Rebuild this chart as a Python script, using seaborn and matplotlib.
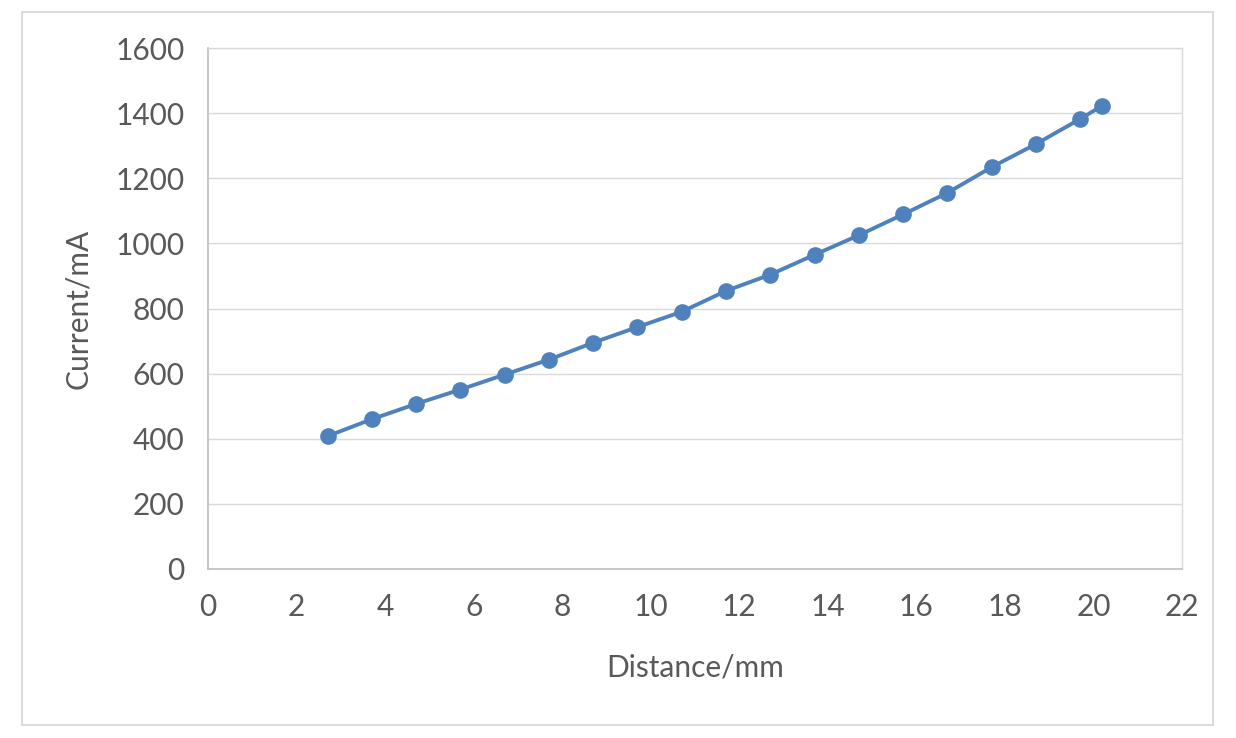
import matplotlib
matplotlib.use("Agg")
import matplotlib.pyplot as plt
import matplotlib.patches as mpatches
import seaborn as sns
import pandas as pd

# Data
distance_mm = [2.7, 3.7, 4.7, 5.7, 6.7, 7.7, 8.7, 9.7, 10.7, 11.7,
               12.7, 13.7, 14.7, 15.7, 16.7, 17.7, 18.7, 19.7, 20.2]
current_ma = [408, 460, 507, 551, 597, 643, 695, 743, 790, 854,
              904, 965, 1025, 1089, 1155, 1234, 1305, 1382, 1423]
x_ticks = [0, 2, 4, 6, 8, 10, 12, 14, 16, 18, 20, 22]
y_ticks = [0, 200, 400, 600, 800, 1000, 1200, 1400, 1600]
x_label = "Distance/mm"
y_label = "Current/mA"

sns.set_style("white")
plt.rcParams["font.family"] = ["Lato", "DejaVu Sans"]

W, H = 1236, 738
fig = plt.figure(figsize=(W / 100, H / 100), dpi=100)
L, R, T, B = 208, 1182, 48, 569
ax = fig.add_axes([L / W, 1 - B / H, (R - L) / W, (B - T) / H])

df = pd.DataFrame({"x": distance_mm, "y": current_ma})
sns.lineplot(data=df, x="x", y="y", ax=ax, color="#4f81bd", linewidth=2.8,
             marker="o", markersize=12, markeredgewidth=0, sort=False)

ax.set_xlim(0, 22)
ax.set_ylim(0, 1600)
ax.set_xticks(x_ticks)
ax.set_yticks(y_ticks)
ax.set_xticklabels([str(t) for t in x_ticks])
ax.set_yticklabels([str(t) for t in y_ticks])

text_color = "#595959"
ax.tick_params(axis="both", length=0, labelsize=21.5, colors=text_color)
ax.tick_params(axis="y", pad=17)
ax.tick_params(axis="x", pad=17)

ax.yaxis.grid(True, color="#d9d9d9", linewidth=1.0)
ax.xaxis.grid(False)
ax.set_axisbelow(True)

for side in ["left", "bottom"]:
    ax.spines[side].set_color("#bfbfbf")
    ax.spines[side].set_linewidth(1.2)
for side in ["top", "right"]:
    ax.spines[side].set_color("#d9d9d9")
    ax.spines[side].set_linewidth(1.0)

ax.set_xlabel(x_label, fontsize=21.5, color=text_color)
ax.set_ylabel(y_label, fontsize=21.5, color=text_color)
ax.xaxis.label.set_va("center")
ax.yaxis.label.set_va("center")
ax.xaxis.set_label_coords(0.5, -0.19)
ax.yaxis.set_label_coords(-0.1335, 0.5)

# Outer chart border
border = mpatches.Rectangle((22 / W, 1 - 725 / H), (1213 - 22) / W, (725 - 12) / H,
                            transform=fig.transFigure, fill=False,
                            edgecolor="#d9d9d9", linewidth=1.3)
fig.patches.append(border)

fig.savefig("out.png", dpi=100)
